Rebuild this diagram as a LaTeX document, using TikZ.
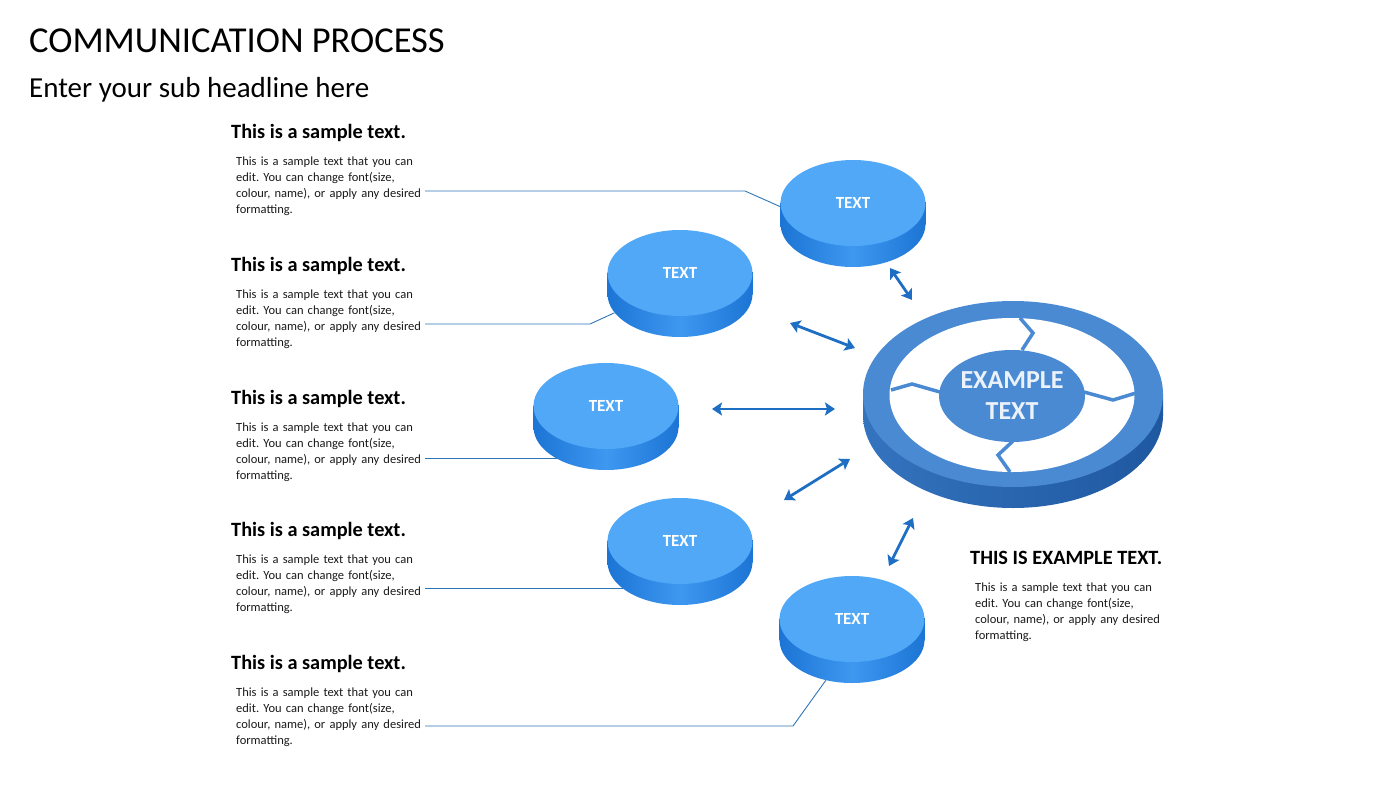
\documentclass[tikz,border=0pt]{standalone}
\usepackage{fontspec}
\setmainfont{Carlito}
\usetikzlibrary{arrows.meta,shapes.geometric,positioning}

\definecolor{diskTop}{RGB}{80,168,246}
\definecolor{diskSide}{RGB}{28,116,212}
\definecolor{diskSideLight}{RGB}{62,152,240}
\definecolor{ringBlue}{RGB}{74,138,210}
\definecolor{ringSideL}{RGB}{52,115,190}
\definecolor{ringSideD}{RGB}{30,88,160}
\definecolor{hubText}{RGB}{235,242,250}
\definecolor{arrowBlue}{RGB}{30,110,195}
\definecolor{leaderBlue}{RGB}{46,117,182}
\definecolor{bodyText}{RGB}{25,25,25}

\frenchspacing

\begin{document}
\begin{tikzpicture}[x=1pt,y=-1pt]

    \tikzset{
      HeadStyle/.style = { anchor=base west, inner sep=0pt,
                           font=\fontsize{20.3}{24}\selectfont\bfseries },
      BodyStyle/.style = { anchor=base west, inner sep=0pt, text width=240pt,
                           align=left, text=bodyText,
                           font=\fontsize{12.5}{16}\selectfont },
      DiskTop/.style = { ellipse, fill=diskTop, minimum width=145pt,
                         minimum height=86pt, inner sep=0pt, text=white,
                         font=\fontsize{17}{20}\selectfont\bfseries },
      DiskBase/.style = { ellipse, minimum width=145pt, minimum height=86pt,
                          inner sep=0pt, left color=diskSide,
                          right color=diskSide, middle color=diskSideLight },
      DiskSide/.style = { left color=diskSide, right color=diskSide,
                          middle color=diskSideLight },
      Leader/.style = { leaderBlue, line width=0.9pt },
      Link/.style = { arrowBlue, line width=2.8pt,
                      {Stealth[length=10pt,width=13pt,inset=2pt]}-{Stealth[length=10pt,width=13pt,inset=2pt]} } }

    \useasboundingbox (0,0) rectangle (1400,790);

    % title
    \node[anchor=base west, inner sep=0pt, font=\fontsize{36.5}{40}\selectfont] (title) at (29,52) {COMMUNICATION PROCESS};
    \node[anchor=base west, inner sep=0pt, font=\fontsize{29}{34}\selectfont] (subtitle) at (29,97) {Enter your sub headline here};

    % text blocks on the left
    \node[HeadStyle] (h1) at (231,138) {This is a sample text.};
    \node[BodyStyle] (b1) at (236,165) {This is a sample text that you can\\edit. You can change font(size,\\colour, name), or apply any desired\\formatting.};
    \node[HeadStyle] (h2) at (231,271) {This is a sample text.};
    \node[BodyStyle] (b2) at (236,298) {This is a sample text that you can\\edit. You can change font(size,\\colour, name), or apply any desired\\formatting.};
    \node[HeadStyle] (h3) at (231,404) {This is a sample text.};
    \node[BodyStyle] (b3) at (236,431) {This is a sample text that you can\\edit. You can change font(size,\\colour, name), or apply any desired\\formatting.};
    \node[HeadStyle] (h4) at (231,536) {This is a sample text.};
    \node[BodyStyle] (b4) at (236,563) {This is a sample text that you can\\edit. You can change font(size,\\colour, name), or apply any desired\\formatting.};
    \node[HeadStyle] (h5) at (231,669) {This is a sample text.};
    \node[BodyStyle] (b5) at (236,696) {This is a sample text that you can\\edit. You can change font(size,\\colour, name), or apply any desired\\formatting.};

    % text block on the right
    \node[HeadStyle] (hx) at (970,564) {THIS IS EXAMPLE TEXT.};
    \node[BodyStyle] (bx) at (975,591) {This is a sample text that you can\\edit. You can change font(size,\\colour, name), or apply any desired\\formatting.};

    % disks
    \node[DiskBase] (d1b) at (853,224) {};
    \fill[DiskSide] (780.5,202) rectangle (925.5,224);
    \node[DiskTop] (d1) at (853,203) {TEXT};

    \node[DiskBase] (d2b) at (680,294) {};
    \fill[DiskSide] (607.5,272) rectangle (752.5,294);
    \node[DiskTop] (d2) at (680,273) {TEXT};

    \node[DiskBase] (d3b) at (606,427) {};
    \fill[DiskSide] (533.5,405) rectangle (678.5,427);
    \node[DiskTop] (d3) at (606,406) {TEXT};

    \node[DiskBase] (d4b) at (680,562) {};
    \fill[DiskSide] (607.5,540) rectangle (752.5,562);
    \node[DiskTop] (d4) at (680,541) {TEXT};

    \node[DiskBase] (d5b) at (852,640) {};
    \fill[DiskSide] (779.5,618) rectangle (924.5,640);
    \node[DiskTop] (d5) at (852,619) {TEXT};

    % ring in the middle
    \node[ellipse, minimum width=300pt, minimum height=186pt, inner sep=0pt,
          left color=ringSideL, right color=ringSideD] (ringb) at (1013,415) {};
    \fill[left color=ringSideL, right color=ringSideD] (863,394) rectangle (1163,415);
    \node[ellipse, fill=ringBlue, minimum width=300pt, minimum height=186pt, inner sep=0pt] (ring) at (1013,394) {};
    \node[ellipse, fill=white, minimum width=245pt, minimum height=154pt, inner sep=0pt] (inner) at (1012,395) {};
    \node[ellipse, fill=ringBlue, minimum width=146pt, minimum height=92pt, inner sep=0pt,
          align=center, text=hubText, font=\fontsize{26}{31}\selectfont\bfseries] (hub) at (1012,396) {EXAMPLE\\TEXT};
    \draw[ringBlue, line width=3.5pt, line join=miter] (1020,318) -- (1033,333) -- (1022,350);
    \draw[ringBlue, line width=3.5pt, line join=miter] (891,390) -- (912,384) -- (940,392);
    \draw[ringBlue, line width=3.5pt, line join=miter] (1084,392) -- (1113,400) -- (1136,393);
    \draw[ringBlue, line width=3.5pt, line join=miter] (1013,441) -- (998,455) -- (1010,472);

    % arrows
    \coordinate (a1s) at (890,268);  \coordinate (a1e) at (912,300);
    \coordinate (a2s) at (790,323);  \coordinate (a2e) at (855,348);
    \coordinate (a3s) at (712,409);  \coordinate (a3e) at (835,409);
    \coordinate (a4s) at (784,500);  \coordinate (a4e) at (850,459);
    \coordinate (a5s) at (889,566);  \coordinate (a5e) at (913,518);
    \draw[Link] (a1s) -- (a1e);
    \draw[Link] (a2s) -- (a2e);
    \draw[Link] (a3s) -- (a3e);
    \draw[Link] (a4s) -- (a4e);
    \draw[Link] (a5s) -- (a5e);

    % leader lines
    \coordinate (c1) at (425,191);  \coordinate (k1) at (745,191);
    \coordinate (c2) at (425,324);  \coordinate (k2) at (590,324);
    \coordinate (c3) at (425,458.5);
    \coordinate (c4) at (425,588.6);
    \coordinate (c5) at (425,726);  \coordinate (k5) at (793,726);
    \draw[Leader] (c1) -- (k1) -- (d1.183);
    \draw[Leader] (c2) -- (k2) -- (d2b.196);
    \draw[Leader] (c3) -- (c3 -| d3b.213);
    \draw[Leader] (c4) -- (c4 -| d4b.205);
    \draw[Leader] (c5) -- (k5) -- (d5b.237);

\end{tikzpicture}
\end{document}
